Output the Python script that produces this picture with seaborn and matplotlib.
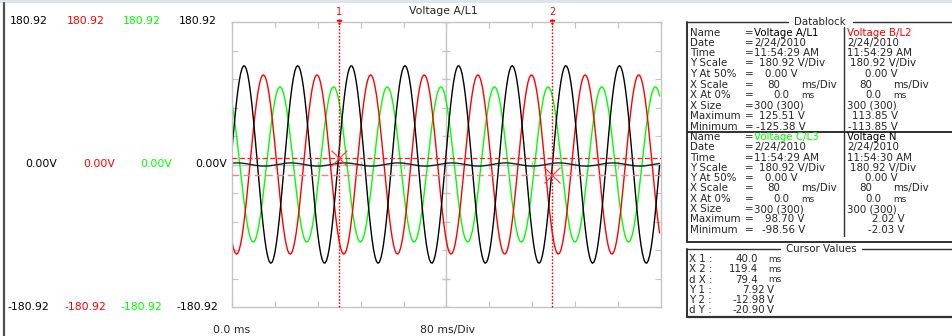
import numpy as np
import pandas as pd
import matplotlib
matplotlib.use("Agg")
import matplotlib.pyplot as plt
import seaborn as sns

sns.set_style("white")
plt.rcParams['font.family'] = ['DejaVu Sans']

# ---- data ----
series_names = ["Voltage A/L1", "Voltage B/L2", "Voltage C/L3", "Voltage N"]
series_colors = ["#000000", "#ff0000", "#00ff00", "#202020"]
peak_v = [125.51, 113.85, 98.70, 2.02]        # Maximum
trough_v = [-125.38, -113.85, -98.56, -2.03]  # Minimum
first_peak_ms = [4.5, 11.7, 17.9, 2.0]        # time of first crest
line_freq_hz = 50.0
n_samples = 300                               # X Size = 300
x_span_ms = 160.0                             # 2 div x 80 ms/Div
y_scale = 180.92                              # V/Div

cursor_x_ms = [40.0, 119.4]
cursor_y_v = [7.92, -12.98]

# scope trace: sampled cosine through the crest / trough read above
t_ms = np.arange(n_samples) * x_span_ms / n_samples
rows = []
for name, hi, lo, tp in zip(series_names, peak_v, trough_v, first_peak_ms):
    mid = (hi + lo) / 2
    amp = (hi - lo) / 2
    v = mid + amp * np.cos(2 * np.pi * line_freq_hz * (t_ms - tp) / 1000.0)
    rows.append(pd.DataFrame({"t_ms": t_ms, "volts": v, "series": name}))
df = pd.concat(rows, ignore_index=True)

W, H = 953, 336
fig = plt.figure(figsize=(W / 100, H / 100), dpi=100)

# overlay in pixel coords for the panel furniture
ov = fig.add_axes([0, 0, 1, 1])
ov.set_xlim(0, W)
ov.set_ylim(H, 0)
ov.axis('off')

ax = fig.add_axes([232 / W, 1 - 307 / H, (661 - 232) / W, (307 - 22) / H])
ax.set_xlim(0, x_span_ms)
ax.set_ylim(-y_scale, y_scale)

# grid furniture (centre cross + ticks)
xt = np.arange(0, x_span_ms + 1, 16)
yt = np.linspace(-y_scale, y_scale, 11)
ax.axvline(80, color='#c4c4c4', lw=1, zorder=0)
ax.axhline(0, color='#c4c4c4', lw=1, zorder=0)
ax.plot([80] * len(yt), yt, ls='none', marker='_', ms=6, color='#c4c4c4', zorder=0)
ax.plot(xt, [0] * len(xt), ls='none', marker='|', ms=6, color='#c4c4c4', zorder=0)
ax.set_xticks(xt)
ax.set_yticks(yt)
ax.set_xticklabels([])
ax.set_yticklabels([])
ax.tick_params(direction='in', length=4, color='#c4c4c4', top=True, right=True,
               bottom=True, left=True)
for s in ax.spines.values():
    s.set_color('#c4c4c4')
    s.set_linewidth(1)

# traces
order = ["Voltage C/L3", "Voltage B/L2", "Voltage N", "Voltage A/L1"]
pal = dict(zip(series_names, series_colors))
sns.lineplot(data=df, x="t_ms", y="volts", hue="series", hue_order=order,
             palette=pal, estimator=None, sort=False, legend=False,
             linewidth=1.0, ax=ax)
ax.set_xlabel('')
ax.set_ylabel('')

# cursors
ax.axhline(cursor_y_v[0], color='#ff2020', lw=0.9, ls=(0, (4, 2)), zorder=5)
ax.axhline(cursor_y_v[1], color='#ff8080', lw=1.0, ls=(0, (5, 3)), zorder=5)
for i, cx in enumerate(cursor_x_ms):
    ax.plot([cx, cx], [-y_scale, y_scale * 1.02], color='#ff0000', lw=1,
            ls=(0, (1.2, 1.2)), clip_on=False, zorder=6)
    ax.plot([cx], [y_scale * 1.0], marker='v', ms=3, color='#ff0000', clip_on=False)
    ax.text(cx, y_scale * 1.07, str(i + 1), color='#ff0000', fontsize=7,
            ha='center', va='center', clip_on=False)
ax.plot(cursor_x_ms, cursor_y_v, ls='none', marker='x', ms=12, mew=0.9,
        color='#ff4040', zorder=7)

# title and axis captions
fs = 7.8
ov.text(443, 11, "Voltage A/L1", fontsize=fs, ha='center', va='center')
ov.text(232, 330, "0.0 ms", fontsize=fs, ha='center', va='center')
ov.text(448, 330, "80 ms/Div", fontsize=fs, ha='center', va='center')

# per-channel scale labels
lab_cols = ["#000000", "#ff0000", "#00ff00", "#000000"]
top_x = [48, 105, 161, 217]
mid_x = [57, 115, 172, 227]
for c, xa, xb in zip(lab_cols, top_x, mid_x):
    ov.text(xa, 21, "%.2f" % y_scale, color=c, fontsize=fs, ha='right', va='center')
    ov.text(xb, 164, "0.00V", color=c, fontsize=fs, ha='right', va='center')
    ov.text(xa + 1, 307, "-%.2f" % y_scale, color=c, fontsize=fs, ha='right', va='center')

# window chrome
ov.fill_between([0, W], 0, 3, color='#dfe4ec', lw=0)
ov.plot([4.5, 4.5], [3, H], color='#505050', lw=1.6)

# ---- Datablock ----
box = '#303030'
bx0, bx1 = 687, W + 2
ov.plot([bx0, 788], [22, 22], color=box, lw=1)
ov.plot([853, bx1], [22, 22], color=box, lw=1)
ov.plot([bx0, bx0], [22, 242], color=box, lw=1.4)
ov.plot([bx0, bx1], [242, 242], color=box, lw=1.4)
ov.plot([bx0, bx1], [132, 132], color=box, lw=1.4)
ov.plot([844, 844], [27, 236], color=box, lw=1)
fd = 7.4
ov.text(820, 22, "Datablock", fontsize=fd, ha='center', va='center')

labels = ["Name", "Date", "Time", "Y Scale", "Y At 50%", "X Scale", "X At 0%",
          "X Size", "Maximum", "Minimum"]
top_rows = [33, 43, 53, 63, 74, 85, 95, 106, 116, 127]
bot_rows = [137, 147, 158, 168, 178, 188, 199, 209, 219, 230]


def block(rows_y, nm_l, col_l, nm_r, col_r, time_r, mx_l, mn_l, mx_r, mn_r,
          mxx_l, mnx_l, mxx_r, mnx_r):
    for lab, y in zip(labels, rows_y):
        ov.text(690, y, lab, fontsize=fd, va='center')
        ov.text(745, y, "=", fontsize=fd, va='center')
    y = rows_y
    ov.text(754, y[0], nm_l, color=col_l, fontsize=fd, va='center')
    ov.text(847, y[0], nm_r, color=col_r, fontsize=fd, va='center')
    ov.text(754, y[1], "2/24/2010", fontsize=fd, va='center')
    ov.text(847, y[1], "2/24/2010", fontsize=fd, va='center')
    ov.text(754, y[2], "11:54:29 AM", fontsize=fd, va='center')
    ov.text(847, y[2], time_r, fontsize=fd, va='center')
    ov.text(759, y[3], "180.92 V/Div", fontsize=fd, va='center')
    ov.text(850, y[3], "180.92 V/Div", fontsize=fd, va='center')
    ov.text(765, y[4], "0.00 V", fontsize=fd, va='center')
    ov.text(865, y[4], "0.00 V", fontsize=fd, va='center')
    ov.text(767, y[5], "80", fontsize=fd, va='center')
    ov.text(801, y[5], "ms/Div", fontsize=fd, va='center')
    ov.text(859, y[5], "80", fontsize=fd, va='center')
    ov.text(893, y[5], "ms/Div", fontsize=fd, va='center')
    ov.text(773, y[6], "0.0", fontsize=fd, va='center')
    ov.text(801, y[6], "ms", fontsize=fd - 1, va='center')
    ov.text(865, y[6], "0.0", fontsize=fd, va='center')
    ov.text(893, y[6], "ms", fontsize=fd - 1, va='center')
    ov.text(754, y[7], "300 (300)", fontsize=fd, va='center')
    ov.text(847, y[7], "300 (300)", fontsize=fd, va='center')
    ov.text(mxx_l, y[8], "%.2f V" % mx_l, fontsize=fd, va='center')
    ov.text(mnx_l, y[9], "%.2f V" % mn_l, fontsize=fd, va='center')
    ov.text(mxx_r, y[8], "%.2f V" % mx_r, fontsize=fd, va='center')
    ov.text(mnx_r, y[9], "%.2f V" % mn_r, fontsize=fd, va='center')


block(top_rows, series_names[0], series_colors[0], series_names[1], series_colors[1],
      "11:54:29 AM", peak_v[0], trough_v[0], peak_v[1], trough_v[1],
      759, 756, 852, 848)
block(bot_rows, series_names[2], series_colors[2], series_names[3], "#000000",
      "11:54:30 AM", peak_v[2], trough_v[2], peak_v[3], trough_v[3],
      765, 762, 872, 868)

# ---- Cursor Values ----
ov.plot([bx0, 780], [249, 249], color=box, lw=1)
ov.plot([862, bx1], [249, 249], color=box, lw=1)
ov.plot([bx0, bx0], [249, 317], color=box, lw=1.4)
ov.plot([bx0, bx1], [317, 317], color=box, lw=1.6)
ov.text(821, 249, "Cursor Values", fontsize=fd, ha='center', va='center')

dx = cursor_x_ms[1] - cursor_x_ms[0]
dy = cursor_y_v[1] - cursor_y_v[0]
cur_labels = ["X 1 :", "X 2 :", "d X :", "Y 1 :", "Y 2 :", "d Y :"]
cur_vals = ["%.1f" % cursor_x_ms[0], "%.1f" % cursor_x_ms[1], "%.1f" % dx,
            "%.2f" % cursor_y_v[0], "%.2f" % cursor_y_v[1], "%.2f" % dy]
cur_units = ["ms", "ms", "ms", "V", "V", "V"]
cur_rows = [259, 269, 280, 290, 300, 310]
for lab, val, unit, y in zip(cur_labels, cur_vals, cur_units, cur_rows):
    ov.text(689, y, lab, fontsize=fd, va='center')
    if unit == "ms":
        ov.text(758, y, val, fontsize=fd, ha='right', va='center')
        ov.text(768, y, unit, fontsize=fd - 1, va='center')
    else:
        ov.text(765, y, val, fontsize=fd, ha='right', va='center')
        ov.text(767, y, unit, fontsize=fd, va='center')

fig.savefig("out.png", dpi=100)
